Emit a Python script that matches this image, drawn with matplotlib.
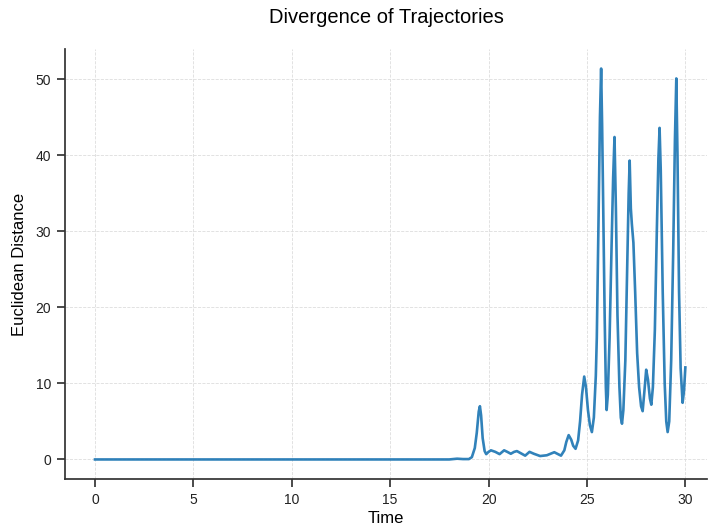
import matplotlib
matplotlib.use("Agg")
import matplotlib.pyplot as plt

# Values (time, euclidean distance)
times = [0.0, 15.0, 18.0, 18.4, 18.7, 19.0, 19.15, 19.3, 19.4, 19.5, 19.56, 19.62,
         19.7, 19.8, 19.88, 20.0, 20.12, 20.34, 20.56, 20.79, 20.95, 21.13, 21.3,
         21.44, 21.65, 21.86, 22.08, 22.3, 22.62, 22.96, 23.34, 23.68, 23.85, 23.95,
         24.07, 24.2, 24.3, 24.42, 24.55, 24.65, 24.75, 24.86, 24.95, 25.05, 25.15,
         25.25, 25.35, 25.45, 25.5, 25.59, 25.66, 25.72, 25.77, 25.81, 25.9, 25.96,
         26.0, 26.06, 26.15, 26.25, 26.33, 26.4, 26.47, 26.55, 26.65, 26.72, 26.78,
         26.85, 26.95, 27.05, 27.12, 27.17, 27.23, 27.28, 27.36, 27.45, 27.55, 27.65,
         27.75, 27.83, 27.92, 28.01, 28.1, 28.2, 28.27, 28.35, 28.45, 28.55, 28.63,
         28.69, 28.75, 28.85, 28.95, 29.03, 29.1, 29.18, 29.28, 29.38, 29.47, 29.54,
         29.6, 29.68, 29.76, 29.86, 29.93, 30.0]
distance = [0.0, 0.0, 0.0, 0.1, 0.05, 0.05, 0.3, 1.5, 3.5, 6.3, 7.0, 5.8,
            2.8, 1.1, 0.7, 1.0, 1.2, 1.0, 0.7, 1.2, 1.0, 0.75, 1.0,
            1.1, 0.8, 0.5, 1.0, 0.75, 0.45, 0.55, 0.95, 0.5, 1.2, 2.3,
            3.2, 2.6, 1.8, 1.4, 2.5, 5.0, 8.5, 10.9, 9.5, 6.5, 4.5,
            3.6, 5.5, 11.0, 16.0, 31.9, 45.0, 51.4, 44.0, 36.3, 18.7, 9.5,
            6.5, 8.5, 16.0, 28.0, 37.0, 42.4, 33.0, 19.0, 9.5, 5.5, 4.7,
            6.5, 13.0, 26.0, 35.0, 39.3, 33.0, 31.0, 28.5, 22.0, 14.0, 9.5,
            7.0, 6.35, 9.0, 11.8, 10.5, 8.0, 7.2, 9.5, 17.0, 30.0, 39.5,
            43.6, 38.0, 22.0, 10.0, 5.0, 3.6, 5.0, 13.0, 27.0, 42.0, 50.1,
            40.0, 22.0, 12.0, 7.45, 9.0, 12.1]

x_ticks = [0, 5, 10, 15, 20, 25, 30]
y_ticks = [0, 10, 20, 30, 40, 50]

plt.rcParams['font.family'] = ['Liberation Sans', 'DejaVu Sans']

fig = plt.figure(figsize=(7.08, 5.27), dpi=100)
ax = fig.add_axes([65/708, 48/527, 642/708, 430/527])

ax.plot(times, distance, color='#1f77b4', lw=1.9, alpha=0.92)

ax.set_xlim(-1.525, 31.1)
ax.set_ylim(-2.57, 53.97)
ax.set_xticks(x_ticks)
ax.set_yticks(y_ticks)

ax.grid(True, linestyle='--', color='#dddddd', linewidth=0.6)
for side in ['top', 'right']:
    ax.spines[side].set_visible(False)
for side in ['left', 'bottom']:
    ax.spines[side].set_color('#333333')
    ax.spines[side].set_linewidth(1.25)
ax.tick_params(direction='out', length=6, width=1.25, color='#333333',
               labelsize=10, labelcolor='#222222', pad=4)

ax.set_xlabel('Time', fontsize=12, labelpad=3)
ax.set_ylabel('Euclidean Distance', fontsize=12, labelpad=6)
ax.set_title('Divergence of Trajectories', fontsize=14.5, pad=18.5)

fig.savefig('out.png', dpi=100)
